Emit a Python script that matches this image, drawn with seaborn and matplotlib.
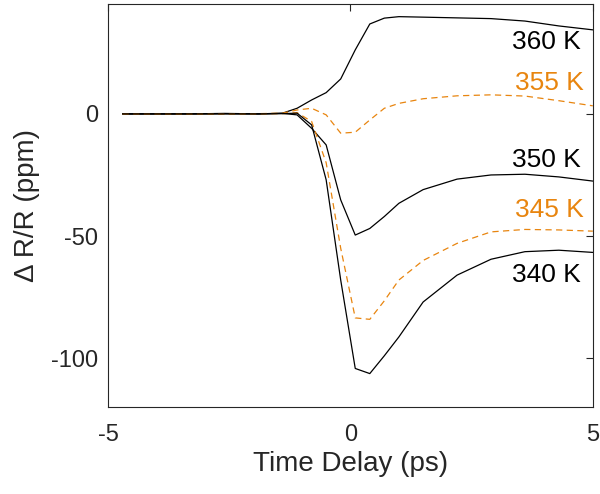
import matplotlib
matplotlib.use("Agg")
import matplotlib.pyplot as plt
import seaborn as sns
import pandas as pd

# Data
delay = [-4.7, -4.0, -3.3, -2.6, -1.9, -1.4, -1.1, -0.8, -0.5, -0.2,
         0.1, 0.4, 0.7, 1.0, 1.5, 2.2, 2.9, 3.6, 4.3, 5.0]
k360 = [0, 0, 0, 0.2, 0, 0.3, 2.3, 5.7, 8.7, 14.3,
        26.2, 36.8, 39.2, 39.8, 39.6, 39.3, 39.0, 38.0, 36.0, 34.4]
k355 = [0, 0, -0.2, 0, 0.1, 0.3, 1.6, 2.3, -0.4, -7.9,
        -7.5, -2.5, 2.3, 4.3, 6.2, 7.4, 7.8, 7.3, 5.4, 3.3]
k350 = [0, 0, 0, 0.1, 0, 0.2, -0.4, -5.9, -12.7, -35.2,
        -49.6, -46.9, -42.0, -36.6, -31.0, -26.7, -25.0, -24.7, -25.8, -27.5]
k345 = [0, 0, 0, 0, 0, 0.1, 0.5, -3.1, -20.0, -55.0,
        -83.5, -84.1, -76.5, -68.0, -60.0, -53.0, -48.3, -47.3, -47.5, -48.0]
k340 = [0, 0, 0, 0, 0, 0.1, 0.3, -4.5, -27.0, -68.0,
        -104.2, -106.3, -99.0, -91.3, -77.0, -66.0, -59.5, -56.4, -55.8, -56.7]

labels = ["360 K", "355 K", "350 K", "345 K", "340 K"]
label_x = [4.75, 4.81, 4.75, 4.81, 4.75]
label_y = [29.6, 12.7, -18.7, -39.3, -65.8]
xticks = [-5, 0, 5]
yticks = [-100, -50, 0]

sns.set_theme(style="white")
plt.rcParams['font.family'] = ['Liberation Sans', 'DejaVu Sans']

BLACK = "#000000"
ORANGE = "#E8850F"
AXC = "#262626"

fig = plt.figure(figsize=(6.0, 4.94), dpi=100)
ax = fig.add_axes([0.18, 0.176, 0.808, 0.816])

series = [(k360, BLACK, "-"), (k355, ORANGE, "--"), (k350, BLACK, "-"),
          (k345, ORANGE, "--"), (k340, BLACK, "-")]
for vals, col, ls in series:
    df = pd.DataFrame({"t": delay, "v": vals})
    sns.lineplot(data=df, x="t", y="v", ax=ax, color=col, linewidth=0.9,
                 estimator=None, sort=False)
    ax.lines[-1].set_linestyle(ls)
    if ls == "--":
        ax.lines[-1].set_dashes((5, 3.5))

for lab, lx, ly, (vals, col, ls) in zip(labels, label_x, label_y, series):
    ax.text(lx, ly, lab, color=col, fontsize=19, ha="right", va="center")

ax.set_xlim(-5, 5)
ax.set_ylim(-120, 45)
ax.set_xticks(xticks)
ax.set_yticks(yticks)
ax.set_xticklabels([str(t) for t in xticks])
ax.set_yticklabels([str(t) for t in yticks])
ax.tick_params(axis="both", direction="in", length=5, width=0.8, color=AXC,
               labelsize=17, labelcolor=AXC, top=True, right=True)
ax.tick_params(axis="x", pad=12)
ax.tick_params(axis="y", pad=7)
for s in ax.spines.values():
    s.set_visible(True)
    s.set_color(AXC)
    s.set_linewidth(0.8)

ax.set_xlabel("Time Delay (ps)", fontsize=20, color=AXC, labelpad=4)
ax.set_ylabel("\u0394 R/R (ppm)", fontsize=20, color=AXC, labelpad=8)

fig.savefig("out.png", dpi=100)
